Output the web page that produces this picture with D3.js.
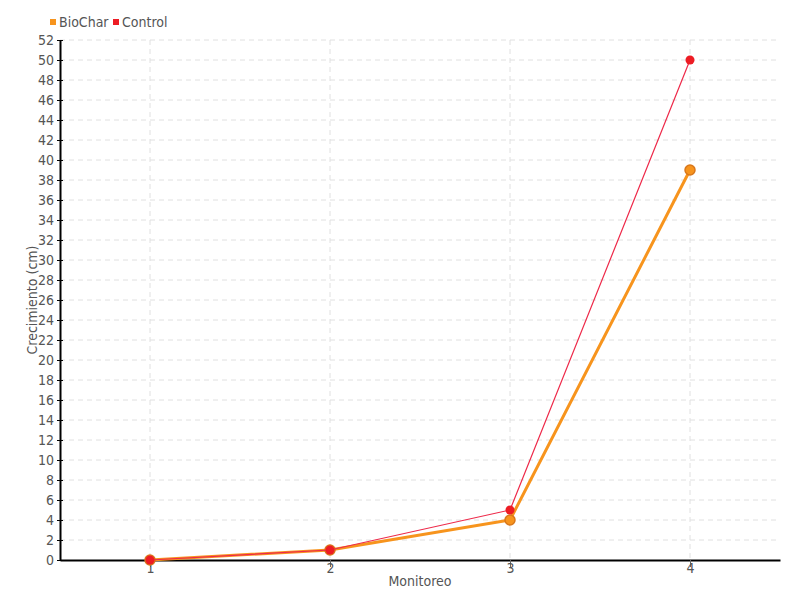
<!DOCTYPE html>
<html>
<head>
<meta charset="utf-8">
<script src="https://cdn.jsdelivr.net/npm/d3@7"></script>
<style>
  body { margin: 0; background: #fff; }
  text { font-family: "Liberation Sans Narrow", "DejaVu Sans Condensed", sans-serif; }
</style>
</head>
<body>
<div id="chart"></div>
<script>
// Data
var categories = ['1', '2', '3', '4'];
var biochar = [0, 1, 4, 39];
var control = [0, 1, 5, 50];
var yTicks = d3.range(0, 54, 2);

var W = 800, H = 600;
var margin = {top: 40, right: 20, bottom: 40, left: 60};

var svg = d3.select('#chart').append('svg')
    .attr('width', W)
    .attr('height', H);

var xScale = d3.scaleLinear()
    .domain([0.5, categories.length + 0.5])
    .range([margin.left, W - margin.right]);

var yScale = d3.scaleLinear()
    .domain([0, 52])
    .range([H - margin.bottom, margin.top]);

// grid
svg.append('g').selectAll('line')
    .data(yTicks.slice(1))
    .enter().append('line')
    .attr('x1', margin.left).attr('x2', W - margin.right)
    .attr('y1', function(d) { return yScale(d); })
    .attr('y2', function(d) { return yScale(d); })
    .style('stroke', '#e0e0e0')
    .style('stroke-dasharray', '5,4');

svg.append('g').selectAll('line')
    .data(categories)
    .enter().append('line')
    .attr('x1', function(d, i) { return xScale(i + 1); })
    .attr('x2', function(d, i) { return xScale(i + 1); })
    .attr('y1', margin.top).attr('y2', H - margin.bottom)
    .style('stroke', '#e0e0e0')
    .style('stroke-dasharray', '5,4');

// axes
var yAxis = svg.append('g')
    .attr('transform', 'translate(' + margin.left + ',0)')
    .call(d3.axisLeft(yScale).tickValues(yTicks).tickSizeInner(3).tickSizeOuter(0).tickPadding(3));
yAxis.selectAll('.tick line').attr('x1', 3).attr('x2', -3).style('stroke', '#000');
yAxis.select('.domain').style('stroke', '#000').style('stroke-width', 2);
yAxis.selectAll('.tick text').style('font-size', '14px').style('fill', '#555');

var xAxis = svg.append('g')
    .attr('transform', 'translate(0,' + (H - margin.bottom) + ')')
    .call(d3.axisBottom(xScale).tickValues([1, 2, 3, 4])
      .tickFormat(function(d) { return categories[d - 1]; })
      .tickSize(7).tickSizeOuter(0).tickPadding(-4));
xAxis.select('.domain').style('stroke', '#000').style('stroke-width', 2);
xAxis.selectAll('.tick line').style('stroke', '#666');
xAxis.selectAll('.tick text').style('font-size', '14px').style('fill', '#555');

// axis titles
svg.append('text')
    .attr('x', (margin.left + W - margin.right) / 2)
    .attr('y', 586)
    .attr('text-anchor', 'middle')
    .style('font-size', '14px')
    .style('fill', '#555')
    .text('Monitoreo');

svg.append('text')
    .attr('transform', 'translate(37,' + ((margin.top + H - margin.bottom) / 2) + ') rotate(-90)')
    .attr('text-anchor', 'middle')
    .style('font-size', '14px')
    .style('fill', '#555')
    .text('Crecimiento (cm)');

// lines
var line = d3.line()
    .x(function(d, i) { return xScale(i + 1); })
    .y(function(d) { return yScale(d); });

svg.append('path')
    .datum(biochar)
    .attr('d', line)
    .style('fill', 'none')
    .style('stroke', '#f7941d')
    .style('stroke-width', 3);

svg.append('g').selectAll('circle')
    .data(biochar)
    .enter().append('circle')
    .attr('cx', function(d, i) { return xScale(i + 1); })
    .attr('cy', function(d) { return yScale(d); })
    .attr('r', 5)
    .style('fill', '#f7941d')
    .style('stroke', '#d9771a')
    .style('stroke-width', 1.5);

svg.append('path')
    .datum(control)
    .attr('d', line)
    .style('fill', 'none')
    .style('stroke', '#ee2a4a')
    .style('stroke-width', 1.2);

svg.append('g').selectAll('circle')
    .data(control)
    .enter().append('circle')
    .attr('cx', function(d, i) { return xScale(i + 1); })
    .attr('cy', function(d) { return yScale(d); })
    .attr('r', 4.5)
    .style('fill', '#ed1c24');

// legend
var legend = [['BioChar', '#f7941d'], ['Control', '#ed1c24']];
var lx = [50, 113];
legend.forEach(function(l, i) {
  svg.append('rect')
    .attr('x', lx[i]).attr('y', 19)
    .attr('width', 6).attr('height', 6)
    .style('fill', l[1]);
  svg.append('text')
    .attr('x', lx[i] + 9).attr('y', 27)
    .style('font-size', '14px')
    .style('fill', '#555')
    .text(l[0]);
});
</script>
</body>
</html>
